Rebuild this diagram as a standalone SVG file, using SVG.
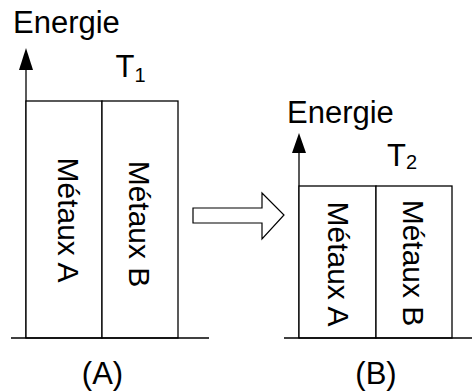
<svg xmlns="http://www.w3.org/2000/svg" width="472" height="392" viewBox="0 0 472 392">
<style>
text{font-family:"Liberation Sans",Arial,sans-serif;fill:#000}
.big{font-size:31px}
.sub{font-size:20px}
.vt{font-size:30px;text-anchor:middle}
.ln{stroke:#000;stroke-width:1.3;fill:none}
.box{stroke:#000;stroke-width:1.3;fill:#fff}
.lbl{font-size:31px;text-anchor:middle}
</style>
<rect width="472" height="392" fill="#fff"/>
<g id="panelA">
  <g id="axisA">
    <line class="ln" x1="26" y1="338" x2="26" y2="68"/>
    <polygon points="26,48 19,70 33,70" fill="#000"/>
    <text class="big" x="13" y="33">Energie</text>
  </g>
  <g id="T1"><text class="big" x="115.5" y="77">T<tspan class="sub" dy="5">1</tspan></text></g>
  <g id="metauxA1">
    <rect class="box" x="26" y="101" width="76" height="237"/>
    <text class="vt" transform="translate(58,220) rotate(90)">Métaux A</text>
  </g>
  <g id="metauxB1">
    <rect class="box" x="102" y="101" width="76" height="237"/>
    <text class="vt" transform="translate(129,224) rotate(90)">Métaux B</text>
  </g>
  <line class="ln" x1="11" y1="338" x2="209" y2="338"/>
  <text class="lbl" x="102.5" y="384">(A)</text>
</g>
<g id="connectors">
  <polygon points="193,208 262,208 262,193 284,215 262,239 262,223 193,223" fill="#fff" stroke="#000" stroke-width="1.2"/>
</g>
<g id="panelB">
  <g id="axisB">
    <line class="ln" x1="299" y1="338" x2="299" y2="151"/>
    <polygon points="299,133 292,153 306,153" fill="#000"/>
    <text class="big" x="287" y="123">Energie</text>
  </g>
  <g id="T2"><text class="big" x="387" y="166">T<tspan class="sub" dy="3">2</tspan></text></g>
  <g id="metauxA2">
    <rect class="box" x="299" y="186" width="77" height="152"/>
    <text class="vt" transform="translate(328,264) rotate(90)">Métaux A</text>
  </g>
  <g id="metauxB2">
    <rect class="box" x="376" y="186" width="76" height="152"/>
    <text class="vt" transform="translate(403,263) rotate(90)">Métaux B</text>
  </g>
  <line class="ln" x1="284" y1="338" x2="472" y2="338"/>
  <text class="lbl" x="376" y="384">(B)</text>
</g>
</svg>
